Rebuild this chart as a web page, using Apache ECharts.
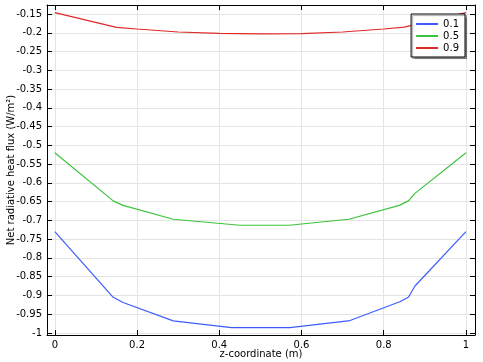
<!DOCTYPE html>
<html><head><meta charset="utf-8">
<script src="https://cdn.jsdelivr.net/npm/echarts@6/dist/echarts.min.js"></script>
<style>html,body{margin:0;padding:0;background:#fff}#c{width:483px;height:362px}</style>
</head><body><div id="c"></div>
<script>
const seriesNames = ['0.1', '0.5', '0.9'];
const zBlue  = [0, 0.142, 0.166, 0.288, 0.43, 0.572, 0.718, 0.839, 0.86, 0.876, 1];
const vBlue  = [-0.73, -0.905, -0.919, -0.968, -0.986, -0.986, -0.967, -0.917, -0.905, -0.875, -0.73];
const zGreen = [0, 0.142, 0.166, 0.288, 0.45, 0.57, 0.715, 0.838, 0.86, 0.876, 1];
const vGreen = [-0.52, -0.648, -0.66, -0.697, -0.713, -0.713, -0.697, -0.66, -0.648, -0.628, -0.52];
const zRed   = [0, 0.15, 0.2, 0.3, 0.4, 0.5, 0.6, 0.7, 0.8, 0.85, 1];
const vRed   = [-0.1465, -0.1855, -0.19, -0.198, -0.2015, -0.203, -0.2025, -0.198, -0.19, -0.185, -0.1465];
const xTicks = [0, 0.2, 0.4, 0.6, 0.8, 1];
const yTicks = [-1, -0.95, -0.9, -0.85, -0.8, -0.75, -0.7, -0.65, -0.6, -0.55, -0.5, -0.45, -0.4, -0.35, -0.3, -0.25, -0.2, -0.15];
const colors = ['#3d5cff', '#3cc43c', '#e02828'];

const pair = (xs, ys) => xs.map((x, i) => [x, ys[i]]);
const chart = echarts.init(document.getElementById('c'));
const font = 'DejaVu Sans, sans-serif';
const baseX = {
  type: 'value', min: -0.019, max: 1.022,
  axisLine: {show: true, onZero: false, lineStyle: {color: '#000', width: 1}},
  axisTick: {show: true, inside: true, length: 5, customValues: xTicks, lineStyle: {color: '#000'}},
  axisLabel: {customValues: xTicks, color: '#000', fontSize: 10, fontFamily: font, margin: 5},
  splitLine: {show: false}
};
const baseY = {
  type: 'value', min: -1.0055, max: -0.126,
  axisLine: {show: true, onZero: false, lineStyle: {color: '#000', width: 1}},
  axisTick: {show: true, inside: true, length: 5, customValues: yTicks, lineStyle: {color: '#000'}},
  axisLabel: {customValues: yTicks, color: '#000', fontSize: 10, fontFamily: font, margin: 5},
  splitLine: {show: false}
};
chart.setOption({
  animation: false,
  grid: {left: 47, right: 8, top: 5, bottom: 27, containLabel: false, outerBoundsMode: 'none'},
  xAxis: [
    Object.assign({}, baseX, {position: 'bottom', name: 'z-coordinate (m)', nameLocation: 'middle', nameGap: 14, nameMoveOverlap: false,
      nameTextStyle: {color: '#000', fontSize: 10, fontFamily: font},
      splitLine: {show: true, lineStyle: {color: '#e4e4e4', width: 1}}}),
    Object.assign({}, baseX, {position: 'top', axisLabel: {show: false}})
  ],
  yAxis: [
    Object.assign({}, baseY, {position: 'left', name: 'Net radiative heat flux (W/m²)', nameLocation: 'middle', nameGap: 31, nameMoveOverlap: false,
      nameTextStyle: {color: '#000', fontSize: 10, fontFamily: font},
      splitLine: {show: true, lineStyle: {color: '#e4e4e4', width: 1}}}),
    Object.assign({}, baseY, {position: 'right', axisLabel: {show: false}})
  ],
  legend: {
    right: 18, top: 14, orient: 'vertical', itemWidth: 22, itemHeight: 2, itemGap: 2,
    backgroundColor: '#fff', borderColor: '#000', borderWidth: 1, borderRadius: 0,
    padding: [5, 6, 4, 5],
    shadowColor: 'rgba(0,0,0,0.35)', shadowOffsetX: 1.5, shadowOffsetY: 1.5, shadowBlur: 1,
    textStyle: {color: '#000', fontSize: 10, fontFamily: font},
    icon: 'rect',
    data: seriesNames
  },
  series: [
    {name: seriesNames[0], data: pair(zBlue, vBlue), color: colors[0]},
    {name: seriesNames[1], data: pair(zGreen, vGreen), color: colors[1]},
    {name: seriesNames[2], data: pair(zRed, vRed), color: colors[2]}
  ].map(s => Object.assign({type: 'line', showSymbol: false, symbol: 'none', lineStyle: {width: 1.2}}, s))
});
</script></body></html>
